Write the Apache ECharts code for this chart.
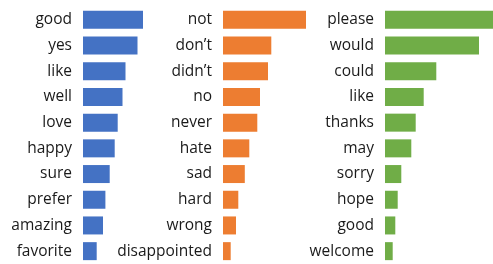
<!DOCTYPE html>
<html style="height: 100%">
<head>
<meta charset="utf-8">
<script src="https://cdn.jsdelivr.net/npm/echarts@6/dist/echarts.min.js"></script>
</head>
<body style="height: 100%; margin: 0; background: #fff">
<div id="container" style="width: 493px; height: 264px"></div>
<script type="text/javascript">
// word lists and bar lengths
var positiveWords = ['good', 'yes', 'like', 'well', 'love', 'happy', 'sure', 'prefer', 'amazing', 'favorite'];
var positiveValues = [60, 54.5, 42.5, 39.5, 34.7, 31.7, 26.7, 22.4, 20, 13.7];

var negativeWords = ['not', 'don\u2019t', 'didn\u2019t', 'no', 'never', 'hate', 'sad', 'hard', 'wrong', 'disappointed'];
var negativeValues = [83, 48.3, 45, 37, 34.3, 26.3, 21.8, 15.3, 13, 7.7];

var politeWords = ['please', 'would', 'could', 'like', 'thanks', 'may', 'sorry', 'hope', 'good', 'welcome'];
var politeValues = [108, 94, 51.3, 38.7, 30.7, 26.3, 16.3, 12.7, 10.3, 7.7];

var dom = document.getElementById('container');
var myChart = echarts.init(dom, null, { renderer: 'canvas' });

var panels = [
    { words: positiveWords, values: positiveValues, color: '#4472C4', left: 83, width: 110 },
    { words: negativeWords, values: negativeValues, color: '#ED7D31', left: 223, width: 110 },
    { words: politeWords, values: politeValues, color: '#70AD47', left: 385, width: 108 }
];

var grid = [], xAxis = [], yAxis = [], series = [];
panels.forEach(function (p, i) {
    grid.push({ left: p.left, width: p.width, top: 7, height: 260 });
    xAxis.push({
        gridIndex: i, type: 'value', min: 0, max: p.width,
        show: false
    });
    yAxis.push({
        gridIndex: i, type: 'category', inverse: true, data: p.words,
        axisLine: { show: false }, axisTick: { show: false },
        splitLine: { show: false },
        axisLabel: {
            margin: 11, color: '#1a1a1a', fontSize: 15.5,
            fontFamily: 'Open Sans'
        }
    });
    series.push({
        type: 'bar', xAxisIndex: i, yAxisIndex: i,
        data: p.values, barWidth: 18,
        itemStyle: { color: p.color },
        silent: true
    });
});

var option = {
    animation: false,
    grid: grid,
    xAxis: xAxis,
    yAxis: yAxis,
    series: series
};
myChart.setOption(option, true);
</script>
</body>
</html>
